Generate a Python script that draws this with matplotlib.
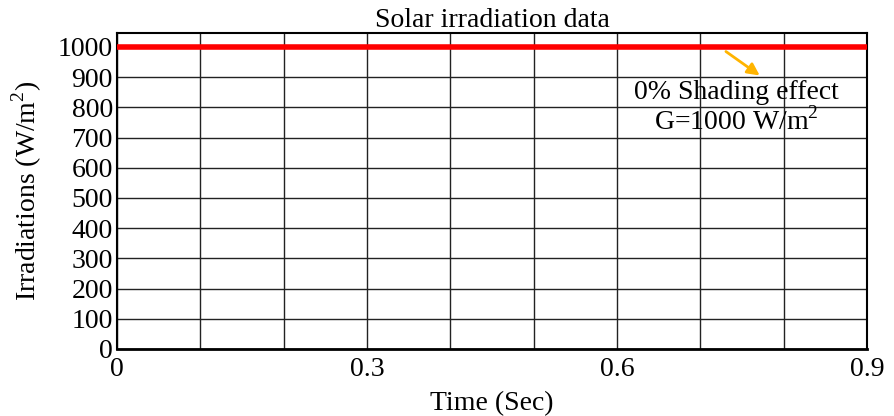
import numpy as np
import matplotlib.pyplot as plt

plt.rcParams['font.family'] = ['Liberation Serif', 'DejaVu Serif']
plt.rcParams['mathtext.fontset'] = 'custom'
plt.rcParams['mathtext.rm'] = 'Liberation Serif'

# irradiation profile: constant 1000 W/m^2 over the run
time_s = [0.0, 0.9]
irradiance = [1000, 1000]
x_ticks = [0, 0.3, 0.6, 0.9]
x_ticklabels = ['0', '0.3', '0.6', '0.9']
y_ticks = list(range(0, 1001, 100))

fig = plt.figure(figsize=(8.94, 4.16), dpi=100)
ax = fig.add_axes([117 / 894, 67 / 416, 750 / 894, 316 / 416])

ax.plot(time_s, irradiance, color='#ff0000', lw=4, solid_capstyle='butt',
        clip_on=False, zorder=3)

ax.set_xlim(0, 0.9)
ax.set_ylim(0, 1046)
ax.set_xticks(x_ticks)
ax.set_xticklabels(x_ticklabels)
ax.set_xticks(np.arange(0, 0.91, 0.1), minor=True)
ax.set_yticks(y_ticks)
ax.tick_params(axis='both', which='both', length=0, labelsize=20, pad=3)
ax.tick_params(axis='x', pad=6)
ax.grid(True, which='both', color='#222222', lw=1.0)
for s in ax.spines.values():
    s.set_linewidth(1.5)
    s.set_color('black')
ax.spines['bottom'].set_linewidth(2)

ax.set_title('Solar irradiation data', fontsize=20, pad=4)
ax.set_xlabel('Time (Sec)', fontsize=20, labelpad=6)
ax.set_ylabel('Irradiations (W/m$^2$)', fontsize=20, labelpad=10)

ax.annotate('', xy=(0.774, 900), xytext=(0.728, 990),
            arrowprops=dict(arrowstyle='-|>', color='#ffb400', lw=2,
                            mutation_scale=18))
ax.text(0.743, 798, '0% Shading effect\nG=1000 W/m$^2$', ha='center',
        va='center', fontsize=20, linespacing=1.1)

fig.savefig('out.png', dpi=100)
